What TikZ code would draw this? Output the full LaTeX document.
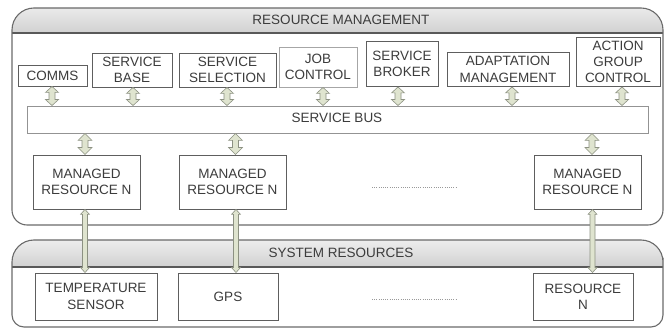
\documentclass[tikz,border=0pt]{standalone}
\usepackage{fontspec}
\setmainfont{Liberation Sans}
\usetikzlibrary{calc}
\definecolor{txt}{HTML}{3C3C3C}
\definecolor{boxc}{HTML}{5E5E5E}
\definecolor{contc}{HTML}{6A6A6A}
\definecolor{arrf}{HTML}{DFE4CF}
\definecolor{arrd}{HTML}{8C9182}
\newcommand{\fs}{\fontsize{13.5}{16.3}\selectfont}
\newcommand{\dbar}[5]{\path[arrowst] let \p1=(#1), \p2=(#2) in
  (\x1,\y1) -- (\x1+#3,\y1-#5) -- (\x1+#4,\y1-#5) -- (\x1+#4,\y2+#5) -- (\x1+#3,\y2+#5) --
  (\x1,\y2) -- (\x1-#3,\y2+#5) -- (\x1-#4,\y2+#5) -- (\x1-#4,\y1-#5) -- (\x1-#3,\y1-#5) -- cycle;}
\tikzset{
  box/.style={draw=boxc, line width=0.9pt, fill=white, align=center, inner sep=0pt, text=txt, font=\fs},
  cont/.style={draw=contc, line width=1.1pt},
  hdrline/.style={draw=black!65, line width=1.4pt},
  hdrshade/.style={top color=gray!10, bottom color=gray!36},
  title/.style={text=txt, font=\fs, inner sep=0pt},
  arrowst/.style={fill=arrf, draw=arrd, line width=0.6pt, line join=miter},
  dots/.style={draw=gray!80, line width=0.8pt, dash pattern=on 0.9pt off 1.3pt}
}
\begin{document}
\begin{tikzpicture}[x=1pt,y=-1pt]
\useasboundingbox (0,0) rectangle (665,328);
% top container
\begin{scope}
\clip (12,120) [rounded corners=22pt] -- (12,8) -- (330,8) -- (663,8) -- (663,120) [rounded corners=15pt] -- (663,225) -- (330,225) -- (12,225) -- (12,120) -- cycle;
\fill[white] (0,0) rectangle (665,230);
\shade[hdrshade] (0,0) rectangle (665,33);
\end{scope}
\draw[hdrline] (12,33) -- (663,33);
\draw[cont] (12,120) [rounded corners=22pt] -- (12,8) -- (330,8) -- (663,8) -- (663,120) [rounded corners=15pt] -- (663,225) -- (330,225) -- (12,225) -- (12,120) -- cycle;
\node[title] (rm) at (341,20) {RESOURCE MANAGEMENT};
% bottom container
\begin{scope}
\clip (12,280) [rounded corners=22pt] -- (12,240) -- (330,240) -- (663,240) -- (663,280) [rounded corners=12pt] -- (663,327) -- (330,327) -- (12,327) -- (12,280) -- cycle;
\fill[white] (0,235) rectangle (665,328);
\shade[hdrshade] (0,235) rectangle (665,267);
\end{scope}
\draw[hdrline] (12,267) -- (663,267);
\draw[cont] (12,280) [rounded corners=22pt] -- (12,240) -- (330,240) -- (663,240) -- (663,280) [rounded corners=12pt] -- (663,327) -- (330,327) -- (12,327) -- (12,280) -- cycle;
\node[title] (sr) at (341,253) {SYSTEM RESOURCES};
% top boxes
\node[box, minimum width=69pt, minimum height=21pt] (comms) at (52.5,75.5) {COMMS};
\node[box, minimum width=80pt, minimum height=34pt] (sbase) at (132,70) {SERVICE\\BASE};
\node[box, minimum width=97pt, minimum height=34pt] (ssel) at (227.5,70) {SERVICE\\SELECTION};
\node[box, draw=gray!70, minimum width=78pt, minimum height=40pt] (job) at (318,67) {JOB\\CONTROL};
\node[box, minimum width=72pt, minimum height=45pt] (broker) at (402,64) {SERVICE\\BROKER};
\node[box, minimum width=122pt, minimum height=34pt] (adapt) at (508,69.5) {ADAPTATION\\MANAGEMENT};
\node[box, minimum width=84pt, minimum height=49pt] (action) at (618,62) {ACTION\\GROUP\\CONTROL};
% bus
\node[box, draw=gray!85, minimum width=621pt, minimum height=27pt] (bus) at (337.5,119.5) {};
\node[title] (bustxt) at (337,118) {SERVICE BUS};
% managed
\node[box, minimum width=107pt, minimum height=54pt] (m1) at (86.5,182) {MANAGED\\RESOURCE N};
\node[box, minimum width=107pt, minimum height=54pt] (m2) at (232.5,182) {MANAGED\\RESOURCE N};
\node[box, minimum width=107pt, minimum height=54pt] (m3) at (587.5,182) {MANAGED\\RESOURCE N};
\draw[dots] (372,187) -- (457,187);
% resources
\node[box, minimum width=122pt, minimum height=47pt] (temp) at (96,296.5) {TEMPERATURE\\SENSOR};
\node[box, minimum width=100pt, minimum height=47pt] (gps) at (228,296.5) {GPS};
\node[box, minimum width=100pt, minimum height=47pt] (resn) at (583,296.5) {RESOURCE\\N};
\draw[dots] (372,299) -- (457,299);
% top arrows
\dbar{[xshift=-0.5pt]comms.south}{bus.north}{6.5pt}{3pt}{6pt}
\dbar{[xshift=1pt]sbase.south}{bus.north}{6.5pt}{3pt}{6pt}
\dbar{[xshift=-0.5pt]ssel.south}{bus.north}{6.5pt}{3pt}{6pt}
\dbar{[xshift=5pt]job.south}{bus.north}{6.5pt}{3pt}{6pt}
\dbar{[xshift=-4pt]broker.south}{bus.north}{6.5pt}{3pt}{6pt}
\dbar{[xshift=4pt]adapt.south}{bus.north}{6.5pt}{3pt}{6pt}
\dbar{[xshift=4pt]action.south}{bus.north}{6.5pt}{3pt}{6pt}
% bus to managed
\dbar{[xshift=-1.5pt]m1.north |- bus.south}{m1.north}{7pt}{3pt}{7pt}
\dbar{[xshift=3pt]m2.north |- bus.south}{m2.north}{7pt}{3pt}{7pt}
\dbar{[xshift=4.5pt]m3.north |- bus.south}{m3.north}{7pt}{3pt}{7pt}
% managed to resources
\dbar{[xshift=-1.5pt]m1.south}{temp.north}{4.5pt}{2.5pt}{5pt}
\dbar{[xshift=3.5pt]m2.south}{gps.north}{4.5pt}{2.5pt}{5pt}
\dbar{[xshift=5pt]m3.south}{resn.north}{4.5pt}{2.5pt}{5pt}
\end{tikzpicture}
\end{document}
